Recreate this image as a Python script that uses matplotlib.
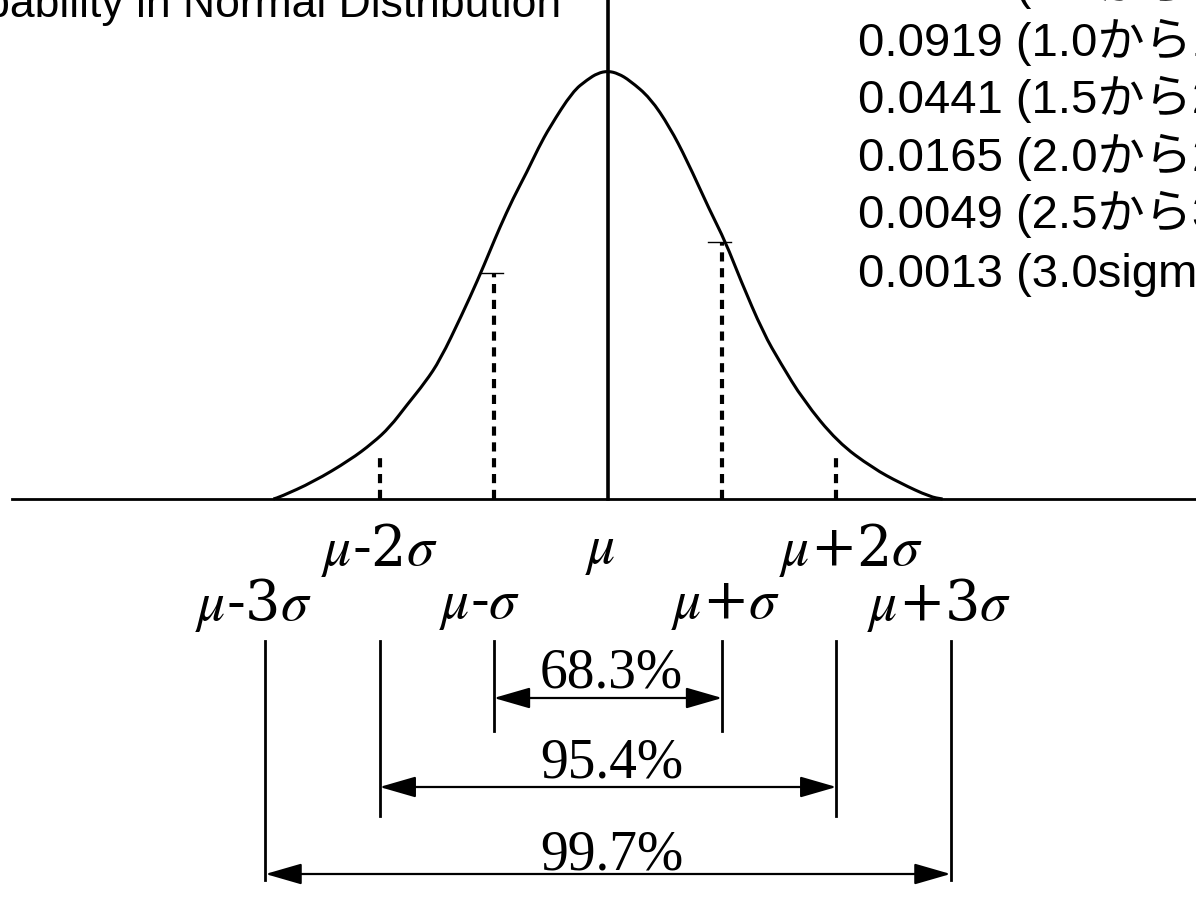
"""
Normal distribution sketch: bell curve with sigma marks,
coverage brackets (68.3 / 95.4 / 99.7 %) and tail probabilities.
"""
import numpy as np
import matplotlib
matplotlib.use("Agg")
import matplotlib.pyplot as plt
from matplotlib.path import Path
from matplotlib.patches import PathPatch

plt.rcParams['mathtext.fontset'] = 'stix'

# CURVE (x in sigma units, height relative to the peak)
curve_x = [-2.93, -2.87, -2.58, -2.26, -2.06, -1.91, -1.76, -1.60, -1.47, -1.28,
           -1.14, -1.03, -0.95, -0.83, -0.71, -0.61, -0.51, -0.31, -0.18, -0.09,
           0.00, 0.09, 0.19, 0.37, 0.54, 0.69, 0.89, 1.03, 1.16, 1.36, 1.51,
           1.71, 2.01, 2.32, 2.56, 2.82, 2.93]
curve_h = [0.0, 0.005, 0.040, 0.091, 0.131, 0.168, 0.220, 0.273, 0.325, 0.430,
           0.512, 0.582, 0.633, 0.703, 0.764, 0.820, 0.869, 0.952, 0.980, 0.995,
           1.000, 0.994, 0.978, 0.937, 0.869, 0.792, 0.675, 0.600, 0.512, 0.388, 0.318,
           0.231, 0.133, 0.072, 0.037, 0.005, 0.0]

# DASHED GUIDES at -2, -1, +1, +2 sigma
guide_k = [-2, -1, 1, 2]
guide_top = [0.110, 0.528, 0.600, 0.103]

# AXIS LABELS
row1_k = [-2, 0, 2]
row1_txt = [r'$\mu$-2$\sigma$', r'$\mu$', r'$\mu$+2$\sigma$']
row1_dx = [0.0, -0.07, 0.13]
row2_k = [-3, -1, 1, 3]
row2_txt = [r'$\mu$-3$\sigma$', r'$\mu$-$\sigma$', r'$\mu$+$\sigma$', r'$\mu$+3$\sigma$']
row2_dx = [-0.11, -0.12, 0.03, -0.10]

# COVERAGE BRACKETS
cover_k = [1, 2, 3]
cover_pct = ['68.3%', '95.4%', '99.7%']

# TAIL PROBABILITIES
tail_p = ['0.1499', '0.0919', '0.0441', '0.0165', '0.0049', '0.0013']
tail_range = ['0.5から1.0sigma', '1.0から1.5sigma', '1.5から2.0sigma',
              '2.0から2.5sigma', '2.5から3.0sigma', '3.0sigma以上']

# page geometry (pixels -> sigma / height units)
W, H = 1196, 906
MU_PX, SIG_PX, BASE_PX, PEAK_PX = 608, 114.2, 499, 428


def ypx(py):
    return (BASE_PX - py) / PEAK_PX


def smooth_path(xs, ys):
    # quadratic bezier through the midpoints, points act as controls
    pts = np.column_stack([xs, ys])
    verts = [pts[0], (pts[0] + pts[1]) / 2]
    codes = [Path.MOVETO, Path.LINETO]
    for i in range(1, len(pts) - 1):
        verts += [pts[i], (pts[i] + pts[i + 1]) / 2]
        codes += [Path.CURVE3, Path.CURVE3]
    verts.append(pts[-1])
    codes.append(Path.LINETO)
    return Path(verts, codes)


fig = plt.figure(figsize=(W / 100, H / 100), dpi=100)
ax = fig.add_axes([0, 0, 1, 1])
ax.set_xlim(-MU_PX / SIG_PX, (W - MU_PX) / SIG_PX)
ax.set_ylim(ypx(H), ypx(0))
ax.axis('off')

# baseline and centre line
ax.plot([-596 / SIG_PX, (W - MU_PX) / SIG_PX], [0, 0], color='black', lw=2.0)
ax.plot([0, 0], [0, ypx(0)], color='black', lw=2.6)

# bell curve
ax.add_patch(PathPatch(smooth_path(curve_x, curve_h), fill=False,
                       edgecolor='black', lw=2.2, joinstyle='round'))

# dashed guides with a small tick where they meet the curve
for k, top in zip(guide_k, guide_top):
    ax.plot([k, k], [0, top], color='black', lw=3.0, dashes=(2.2, 1.6))
    if abs(k) == 1:
        ax.plot([k - 0.12, k + 0.08], [top, top], color='black', lw=1.0)

# sigma labels
serif = dict(fontsize=40, family='DejaVu Serif', color='black', ha='center', va='center')
for k, t, dx in zip(row1_k, row1_txt, row1_dx):
    ax.text(k + dx, ypx(550), t, **serif)
for k, t, dx in zip(row2_k, row2_txt, row2_dx):
    ax.text(k + dx, ypx(605), t, **serif)

# coverage brackets
line_top = ypx(641)
line_bot = [ypx(731), ypx(816), ypx(880)]
arrow_y = [ypx(698), ypx(787), ypx(874)]
pct_base = [ypx(688), ypx(778), ypx(869)]
for k, pct, lb, ay, pb in zip(cover_k, cover_pct, line_bot, arrow_y, pct_base):
    for s in (-1, 1):
        ax.plot([s * k, s * k], [line_top, lb], color='black', lw=2.0)
    ax.annotate('', xy=(k, ay), xytext=(-k, ay),
                arrowprops=dict(arrowstyle='<|-|>,head_length=0.45,head_width=0.13',
                                mutation_scale=50, lw=1.6, color='black',
                                shrinkA=0, shrinkB=0))
    ax.text(0.03, pb, pct, fontsize=40, family='Liberation Serif',
            ha='center', va='baseline', color='black')

# title (runs off the top-left of the page)
ax.text(-692 / SIG_PX, ypx(17), 'Probability in Normal Distribution',
        fontsize=32, family='Liberation Sans', ha='left', va='baseline')

# tail probability list
for i, (p, r) in enumerate(zip(tail_p, tail_range)):
    ax.text((858 - MU_PX) / SIG_PX, ypx(-15 + 57.4 * i), f'{p} ({r})',
            fontsize=34, family=['Liberation Sans', 'Noto Sans CJK JP'],
            ha='left', va='center', color='black')

fig.savefig('out.png', dpi=100)
